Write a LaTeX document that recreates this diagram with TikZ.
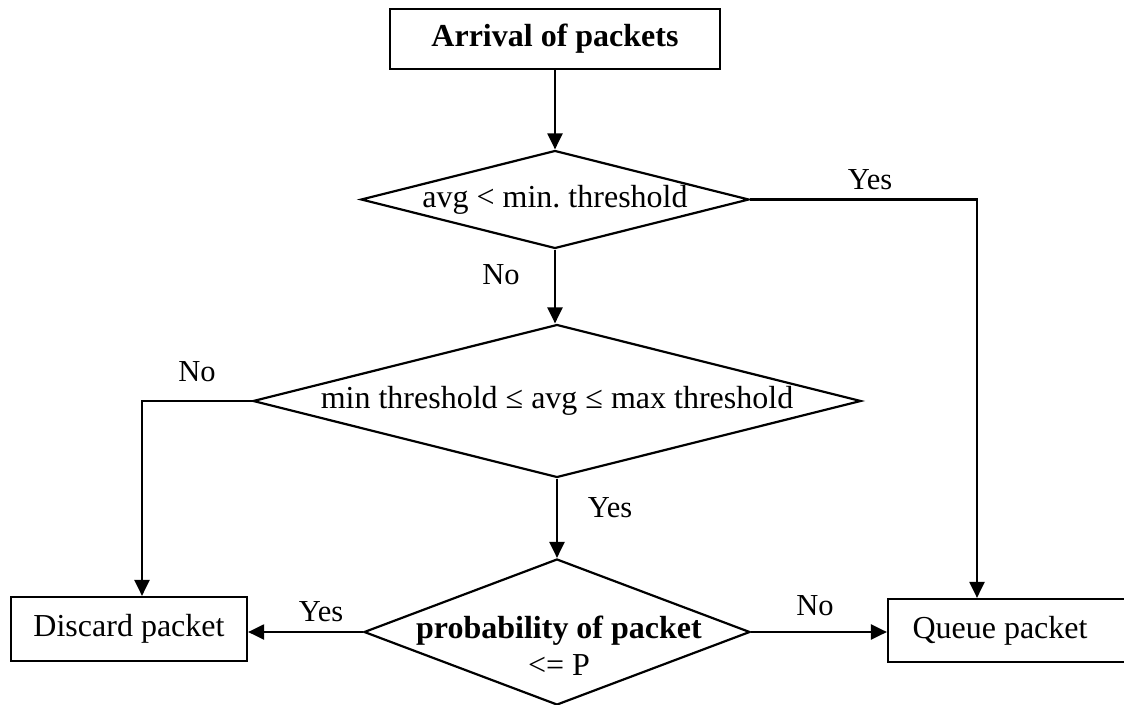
\documentclass[tikz,border=0pt]{standalone}
\usepackage{fontspec}
\setmainfont{Liberation Serif}
\usetikzlibrary{shapes.geometric,arrows.meta}
\frenchspacing
\begin{document}
\begin{tikzpicture}[x=1pt,y=-1pt,
  base/.style={font=\fontsize{32pt}{38pt}\selectfont, line width=2.2pt},
  boxnode/.style={base, draw, rectangle, inner sep=0pt},
  decision/.style={base, draw, diamond, inner sep=0pt},
  flow/.style={line width=2.2pt, -{Triangle[length=16pt,width=15pt]}},
  answer/.style={font=\fontsize{30.5pt}{36pt}\selectfont, inner sep=0pt}]
\useasboundingbox (0,0) rectangle (1124,704);

% boxes
\node[boxnode, minimum width=330pt, minimum height=60pt,
      font=\fontsize{32pt}{38pt}\selectfont\bfseries] (arrival) at (555,39) {Arrival of packets};
\node[boxnode, minimum width=236pt, minimum height=64pt] (discard) at (129,629) {Discard packet};
\node[boxnode, minimum width=242pt, minimum height=63pt] (queue) at (1009,630.5) {Queue packet\hspace*{18pt}};

% decisions
\node[decision, minimum width=388pt, minimum height=98pt, aspect=3.96] (d1) at (555,199.5) {avg < min. threshold};
\node[decision, minimum width=608pt, minimum height=153pt, aspect=3.97] (d2) at (557,401) {min threshold ≤ avg ≤ max threshold};
\node[decision, minimum width=386pt, minimum height=146pt, aspect=2.64] (d3) at (557,632) {};
\node[base, align=center, inner sep=0pt, font=\fontsize{32pt}{36.7pt}\selectfont]
  (d3text) at (559,645.5) {\textbf{probability of packet}\\<= P};

% corners of the elbow connectors
\coordinate (yescorner) at (977,199.5);
\coordinate (nocorner) at (142,401);

% connectors
\draw[flow] (arrival.south) -- (d1.north);
\draw[flow] (d1.south) -- (d1.south |- d2.north);
\draw[flow] (d2.south) -- (d3.north);
\draw[flow] (d1.east) -- (yescorner) -- (yescorner |- queue.north);
\draw[flow] (d2.west) -- (nocorner) -- (nocorner |- discard.north);
\draw[flow] (d3.west) -- (d3.west -| discard.east);
\draw[flow] (d3.east) -- (d3.east -| queue.west);

% branch labels
\node[answer] (yes1) at (870,180) {Yes};
\node[answer] (no1) at (501,275) {No};
\node[answer] (no2) at (197,372) {No};
\node[answer] (yes2) at (610,508) {Yes};
\node[answer] (yes3) at (321,612) {Yes};
\node[answer] (no3) at (815,606) {No};
\end{tikzpicture}
\end{document}
